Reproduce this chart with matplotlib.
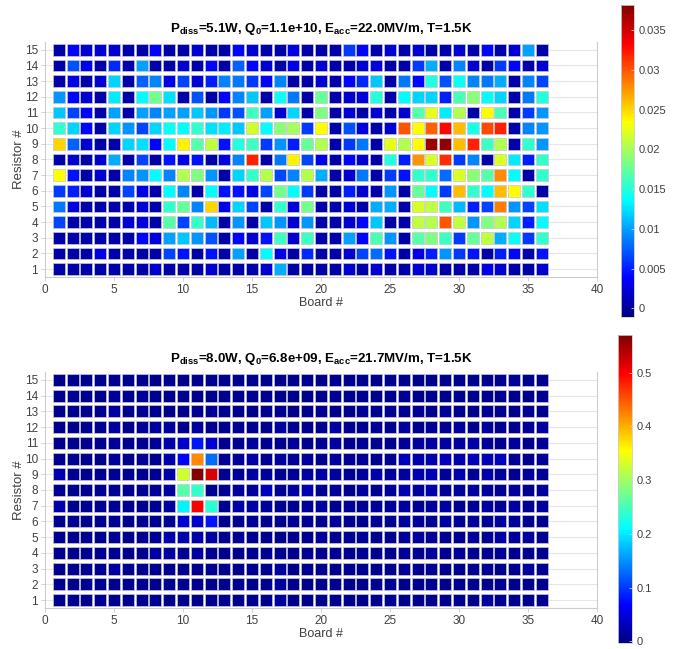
import numpy as np
import matplotlib
matplotlib.use('Agg')
import matplotlib.pyplot as plt
from matplotlib.colors import LinearSegmentedColormap

plt.rcParams['font.family'] = ['Liberation Sans', 'DejaVu Sans']
plt.rcParams['mathtext.fontset'] = 'custom'
plt.rcParams['mathtext.rm'] = 'Liberation Sans:bold'
plt.rcParams['mathtext.default'] = 'rm'

boards = np.arange(1, 37)
resistors = np.arange(1, 16)
xticks = [0, 5, 10, 15, 20, 25, 30, 35, 40]

# top map, values in units of 1e-3, rows from resistor 15 down to resistor 1
top_rows = [
    [0.5, 4, 2, 2, 2, 0.5, 0.5, 4, 0.5, 0.5, 2, 0.5, 0.5, 4, 2, 0.5, 0.5, 3, 0.5, 0.5, 0.5, 6, 4, 0.5, 2, 0.5, 2, 0.5, 0.5, 2, 0.5, 4, 0.5, 2, 10, 0.5],
    [0.5, 7, 3, 0.5, 5.5, 0.5, 10, 0.5, 0.5, 2, 0.5, 4, 0.5, 7.5, 4, 2, 0.5, 3, 0.5, 2, 0.5, 0.5, 2, 2.5, 0.5, 0.5, 6, 10.5, 0.5, 9, 2, 0.5, 6, 4, 0.5, 2],
    [0.5, 3, 0.5, 2, 12, 0.5, 7.5, 9, 3, 6.5, 2, 5, 9, 8.5, 6, 4, 9, 0.5, 0.5, 2, 0.5, 4, 5.5, 11.5, 0.5, 8.5, 4, 15, 7, 14, 9, 8.5, 10.5, 0.5, 9, 6.5],
    [9.5, 4, 2, 0.5, 13, 0.5, 13.5, 18, 12.5, 0.5, 7, 0.5, 4, 9, 11.5, 0.5, 14, 8.5, 0.5, 17.5, 0.5, 2, 2.5, 15, 0.5, 13.5, 12, 12, 5, 16.5, 19, 13.5, 12, 0.5, 8.5, 15],
    [11.5, 6.5, 4, 0.5, 10, 0.5, 10, 9, 10, 10, 11.5, 9.5, 6, 7, 16, 10, 2, 12, 0.5, 18.5, 0.5, 2, 0.5, 2, 0.5, 2, 17, 22.5, 13, 20.5, 0.5, 23.5, 16.5, 0.5, 6, 9.5],
    [15.5, 12, 4, 0.5, 12, 9.5, 6.5, 12, 14, 13.5, 15.5, 12.5, 13, 11.5, 21.5, 13.5, 19, 20, 6, 23.5, 0.5, 7, 2.5, 0.5, 2, 30, 23.5, 29.5, 33, 26, 14.5, 30.5, 32, 0.5, 9, 9.5],
    [25, 7.5, 2, 0.5, 0.5, 12, 12.5, 4, 13.5, 24, 17, 21, 4.5, 15, 16, 6, 9.5, 5, 17.5, 20.5, 0.5, 6, 8.5, 0.5, 22.5, 20.5, 23.5, 37, 37.5, 26, 32, 16, 20.5, 0.5, 15.5, 9.5],
    [0.5, 2, 0.5, 2, 10.5, 0.5, 6.5, 0.5, 4.5, 3, 4.5, 0.5, 3, 9, 32, 0.5, 8.5, 24, 6.5, 3, 0.5, 4, 2, 0.5, 15, 5, 27.5, 22, 31.5, 6, 9, 0.5, 22, 13, 5, 15.5],
    [23.5, 4.5, 0.5, 2, 0.5, 9, 9.5, 13.5, 9, 20.5, 18.5, 9.5, 0.5, 12, 15.5, 20.5, 6.5, 9, 20.5, 10.5, 0.5, 2, 8.5, 0.5, 6, 4.5, 15.5, 15.5, 8, 22, 19, 17, 28, 13.5, 0.5, 15.5],
    [6, 5, 2, 0.5, 0.5, 6.5, 3, 0.5, 13.5, 9, 0.5, 13.5, 4.5, 4.5, 3, 6.5, 18, 13.5, 6, 0.5, 0.5, 5, 2, 0.5, 9.5, 0.5, 17.5, 13.5, 6, 26, 15.5, 13.5, 26, 23.5, 15.5, 0.5],
    [8.5, 2.5, 0.5, 0.5, 0.5, 0.5, 2, 0.5, 15.5, 17.5, 9, 25, 3, 12, 6.5, 0.5, 15.5, 2.5, 18, 0.5, 0.5, 2, 0.5, 10.5, 10.5, 0.5, 22, 21, 16, 11, 5, 6.5, 28.5, 9.5, 6.5, 12.5],
    [6.5, 0.5, 0.5, 0.5, 0.5, 2, 2.5, 0.5, 17, 6.5, 15.5, 11, 0.5, 9.5, 0.5, 11.5, 9.5, 2, 9.5, 0.5, 0.5, 2, 4, 11.5, 0.5, 0.5, 21, 20.5, 30, 21, 9.5, 18.5, 20.5, 12, 5, 13.5],
    [0.5, 0.5, 0.5, 0.5, 0.5, 0.5, 4, 2.5, 10, 11.5, 9.5, 7, 0.5, 4, 2, 4.5, 16, 2, 16, 0.5, 0.5, 10, 4, 16.5, 9.5, 0.5, 17, 18.5, 16, 6, 17.5, 21, 10.5, 14, 6, 15.5],
    [0.5, 0.5, 0.5, 3, 0.5, 0.5, 0.5, 0.5, 6.5, 4.5, 0.5, 4.5, 0.5, 10, 0.5, 13.5, 3, 0.5, 5.5, 0.5, 0.5, 2, 6.5, 8, 4.5, 0.5, 3, 5, 9.5, 6, 4.5, 0.5, 5, 4, 0.5, 4.5],
    [0.5, 0.5, 0.5, 0.5, 0.5, 0.5, 0.5, 2, 0.5, 0.5, 0.5, 2, 0.5, 0.5, 0.5, 2, 10.5, 0.5, 0.5, 0.5, 0.5, 2, 0.5, 2, 0.5, 0.5, 2, 2, 0.5, 0.5, 0.5, 3, 2, 0.5, 0.5, 2],
]

# bottom map, rows from resistor 15 down to resistor 1
bottom_rows = [
    [0.004, 0.006, 0.005, 0.005, 0.008, 0.005, 0.006, 0.004, 0.005, 0.004, 0.006, 0.005, 0.004, 0.005, 0.006, 0.005, 0.004, 0.006, 0.005, 0.004, 0.006, 0.005, 0.008, 0.004, 0.005, 0.006, 0.005, 0.004, 0.006, 0.005, 0.005, 0.004, 0.006, 0.012, 0.005, 0.004],
    [0.005, 0.010, 0.005, 0.004, 0.012, 0.005, 0.010, 0.005, 0.004, 0.008, 0.005, 0.006, 0.004, 0.005, 0.008, 0.005, 0.004, 0.006, 0.004, 0.005, 0.008, 0.005, 0.006, 0.004, 0.005, 0.008, 0.005, 0.006, 0.004, 0.008, 0.005, 0.004, 0.006, 0.005, 0.004, 0.006],
    [0.004, 0.005, 0.006, 0.005, 0.018, 0.005, 0.008, 0.005, 0.006, 0.004, 0.008, 0.010, 0.005, 0.006, 0.004, 0.008, 0.005, 0.004, 0.005, 0.008, 0.004, 0.006, 0.010, 0.005, 0.008, 0.006, 0.010, 0.005, 0.012, 0.006, 0.005, 0.008, 0.006, 0.004, 0.008, 0.005],
    [0.005, 0.004, 0.006, 0.008, 0.015, 0.005, 0.010, 0.016, 0.015, 0.004, 0.012, 0.006, 0.005, 0.008, 0.005, 0.004, 0.014, 0.005, 0.004, 0.008, 0.018, 0.005, 0.006, 0.010, 0.005, 0.012, 0.006, 0.010, 0.008, 0.014, 0.006, 0.012, 0.008, 0.005, 0.010, 0.016],
    [0.005, 0.006, 0.004, 0.005, 0.010, 0.005, 0.008, 0.010, 0.022, 0.040, 0.080, 0.045, 0.008, 0.006, 0.012, 0.008, 0.004, 0.010, 0.005, 0.008, 0.018, 0.006, 0.010, 0.008, 0.005, 0.010, 0.012, 0.016, 0.018, 0.014, 0.020, 0.010, 0.008, 0.012, 0.006, 0.010],
    [0.005, 0.008, 0.006, 0.004, 0.012, 0.005, 0.010, 0.008, 0.022, 0.068, 0.420, 0.130, 0.010, 0.012, 0.020, 0.010, 0.014, 0.010, 0.012, 0.006, 0.016, 0.008, 0.010, 0.006, 0.008, 0.030, 0.020, 0.025, 0.030, 0.025, 0.030, 0.028, 0.035, 0.010, 0.008, 0.010],
    [0.025, 0.008, 0.005, 0.006, 0.010, 0.008, 0.006, 0.005, 0.020, 0.330, 0.567, 0.520, 0.008, 0.010, 0.018, 0.012, 0.008, 0.010, 0.015, 0.020, 0.012, 0.010, 0.016, 0.022, 0.010, 0.014, 0.025, 0.028, 0.012, 0.025, 0.010, 0.022, 0.012, 0.008, 0.012, 0.010],
    [0.005, 0.006, 0.004, 0.008, 0.010, 0.006, 0.008, 0.010, 0.018, 0.260, 0.240, 0.005, 0.008, 0.012, 0.010, 0.030, 0.008, 0.018, 0.025, 0.008, 0.010, 0.006, 0.012, 0.008, 0.010, 0.025, 0.012, 0.022, 0.010, 0.012, 0.016, 0.010, 0.008, 0.012, 0.006, 0.012],
    [0.022, 0.006, 0.005, 0.008, 0.010, 0.006, 0.005, 0.008, 0.018, 0.205, 0.500, 0.235, 0.006, 0.020, 0.018, 0.012, 0.008, 0.006, 0.010, 0.018, 0.006, 0.010, 0.008, 0.012, 0.010, 0.014, 0.008, 0.012, 0.018, 0.008, 0.010, 0.016, 0.010, 0.018, 0.008, 0.012],
    [0.005, 0.008, 0.006, 0.005, 0.010, 0.006, 0.008, 0.005, 0.010, 0.045, 0.038, 0.080, 0.008, 0.006, 0.010, 0.008, 0.005, 0.010, 0.008, 0.005, 0.012, 0.008, 0.006, 0.010, 0.008, 0.012, 0.010, 0.008, 0.016, 0.010, 0.012, 0.008, 0.014, 0.010, 0.008, 0.006],
    [0.005, 0.006, 0.005, 0.004, 0.008, 0.006, 0.005, 0.008, 0.022, 0.022, 0.020, 0.018, 0.006, 0.008, 0.005, 0.006, 0.004, 0.008, 0.006, 0.012, 0.006, 0.008, 0.010, 0.006, 0.008, 0.010, 0.012, 0.010, 0.008, 0.006, 0.012, 0.008, 0.020, 0.010, 0.012, 0.006],
    [0.005, 0.004, 0.006, 0.005, 0.006, 0.004, 0.005, 0.015, 0.018, 0.008, 0.016, 0.006, 0.005, 0.004, 0.006, 0.008, 0.005, 0.006, 0.008, 0.005, 0.010, 0.006, 0.008, 0.005, 0.006, 0.010, 0.008, 0.012, 0.006, 0.010, 0.008, 0.006, 0.010, 0.004, 0.008, 0.006],
    [0.004, 0.005, 0.006, 0.005, 0.016, 0.005, 0.004, 0.006, 0.005, 0.004, 0.006, 0.005, 0.006, 0.004, 0.005, 0.006, 0.016, 0.004, 0.005, 0.006, 0.004, 0.008, 0.005, 0.006, 0.004, 0.008, 0.005, 0.006, 0.004, 0.005, 0.006, 0.008, 0.004, 0.006, 0.012, 0.005],
    [0.005, 0.004, 0.005, 0.006, 0.004, 0.005, 0.006, 0.004, 0.005, 0.008, 0.005, 0.004, 0.005, 0.006, 0.004, 0.005, 0.014, 0.004, 0.006, 0.004, 0.005, 0.006, 0.004, 0.008, 0.005, 0.004, 0.006, 0.005, 0.004, 0.006, 0.005, 0.004, 0.006, 0.005, 0.004, 0.005],
    [0.004, 0.005, 0.004, 0.006, 0.005, 0.004, 0.005, 0.006, 0.004, 0.005, 0.004, 0.006, 0.005, 0.004, 0.005, 0.006, 0.014, 0.004, 0.005, 0.004, 0.006, 0.005, 0.004, 0.005, 0.006, 0.004, 0.005, 0.004, 0.006, 0.005, 0.004, 0.014, 0.005, 0.004, 0.006, 0.005],
]

top_title = r'P$_{\mathrm{diss}}$=5.1W, Q$_{0}$=1.1e+10, E$_{\mathrm{acc}}$=22.0MV/m, T=1.5K'
bottom_title = r'P$_{\mathrm{diss}}$=8.0W, Q$_{0}$=6.8e+09, E$_{\mathrm{acc}}$=21.7MV/m, T=1.5K'

top_vals = np.array(top_rows)[::-1] * 1e-3
bot_vals = np.array(bottom_rows)[::-1]

# MATLAB style jet
mjet = LinearSegmentedColormap.from_list('mjet', [
    (0.0, (0, 0, 0.5)), (0.125, (0, 0, 1)), (0.375, (0, 1, 1)),
    (0.625, (1, 1, 0)), (0.875, (1, 0, 0)), (1.0, (0.5, 0, 0))])

fig = plt.figure(figsize=(6.92, 6.49), dpi=100)
gray = '#cccccc'
txt = '#404040'


def draw(ax_pos, cb_pos, vals, title, vmin, vmax, cticks):
    ax = fig.add_axes(ax_pos)
    X, Y = np.meshgrid(boards, resistors)
    ax.yaxis.grid(True, color='#e6e6e6', linewidth=0.8, zorder=0)
    ax.set_axisbelow(True)
    sc = ax.scatter(X.ravel(), Y.ravel(), c=vals.ravel(), cmap=mjet,
                    vmin=vmin, vmax=vmax, marker='s', s=74,
                    edgecolors='#c8c8c8', linewidths=0.5, zorder=3)
    ax.set_xlim(0, 40)
    ax.set_ylim(0.5, 15.5)
    ax.set_xticks(xticks)
    ax.set_yticks(resistors)
    ax.tick_params(direction='out', length=3, width=0.6, colors=gray,
                   labelcolor=txt, labelsize=8.5, pad=2)
    for side in ['left', 'bottom', 'right']:
        ax.spines[side].set_color(gray)
        ax.spines[side].set_linewidth(0.8)
    ax.spines['top'].set_visible(False)
    ax.set_xlabel('Board #', fontsize=9, color=txt, labelpad=1)
    ax.set_ylabel('Resistor #', fontsize=9.5, color=txt, labelpad=0)
    ax.set_title(title, fontsize=9.6, fontweight='bold', pad=7)

    cax = fig.add_axes(cb_pos)
    cb = fig.colorbar(sc, cax=cax, ticks=cticks)
    cb.ax.set_yticklabels([f'{t:g}' for t in cticks])
    cb.outline.set_edgecolor(gray)
    cb.outline.set_linewidth(0.6)
    cb.ax.tick_params(direction='in', length=2.5, width=0.6, colors=gray,
                      labelcolor=txt, labelsize=8, pad=3)


draw([0.0650, 0.5732, 0.7977, 0.3621], [0.8974, 0.5116, 0.0188, 0.4807],
     top_vals, top_title, -0.0011, 0.0382,
     [0, 0.005, 0.01, 0.015, 0.02, 0.025, 0.03, 0.035])
draw([0.0650, 0.0632, 0.7977, 0.3636], [0.8931, 0.0085, 0.0202, 0.4753],
     bot_vals, bottom_title, -0.004, 0.57,
     [0, 0.1, 0.2, 0.3, 0.4, 0.5])

fig.savefig('out.png', dpi=100)
